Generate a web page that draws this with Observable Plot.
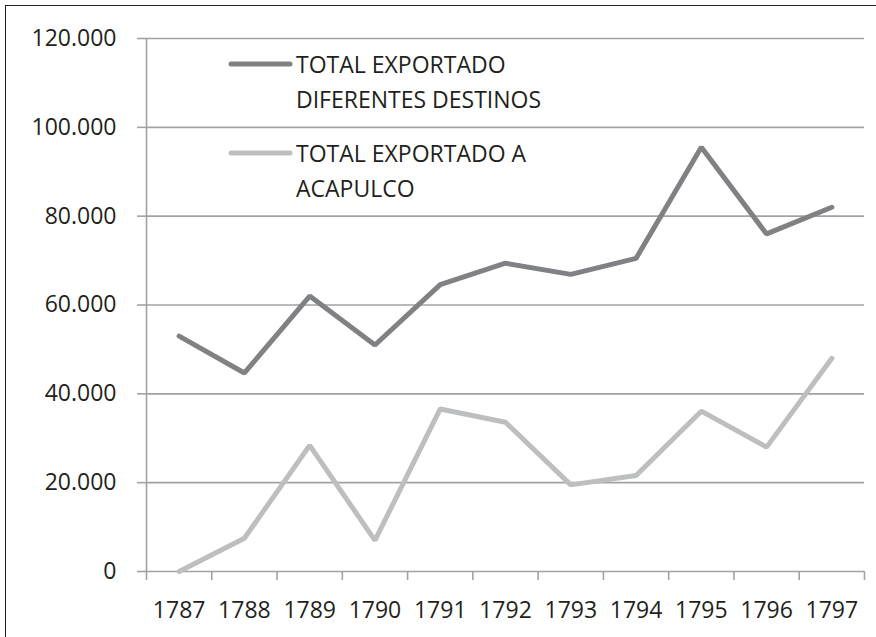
<!DOCTYPE html>
<html>
<head>
<meta charset="utf-8">
<script src="https://cdn.jsdelivr.net/npm/d3@7"></script>
<script src="https://cdn.jsdelivr.net/npm/@observablehq/plot@0.6"></script>
<style>
  html, body { margin: 0; padding: 0; background: #fff; }
  #wrap { position: relative; width: 876px; height: 637px; overflow: hidden; }
  #frame { position: absolute; left: 5px; top: 5px; right: -10px; bottom: -10px;
           border-left: 1.5px solid #222; border-top: 1.5px solid #222; pointer-events: none; }
</style>
</head>
<body>
<div id="wrap"><div id="frame"></div></div>
<script>
const years = [1787, 1788, 1789, 1790, 1791, 1792, 1793, 1794, 1795, 1796, 1797];
const totalDestinos = [53000, 44700, 62000, 51000, 64600, 69400, 66900, 70500, 95500, 76000, 82000];
const totalAcapulco = [0, 7500, 28400, 7000, 36600, 33600, 19500, 21600, 36100, 28000, 48000];
const seriesNames = ["TOTAL EXPORTADO\nDIFERENTES DESTINOS", "TOTAL EXPORTADO A\nACAPULCO"];
const seriesColors = ["#7f8184", "#bcbec0"];
const yTicks = [0, 20000, 40000, 60000, 80000, 100000, 120000];

const locale = d3.formatLocale({decimal: ",", thousands: ".", grouping: [3], currency: ["", ""]});
const fmt = locale.format(",");

const rows = [];
years.forEach((yr, i) => {
  rows.push({year: yr, value: totalDestinos[i], series: seriesNames[0]});
  rows.push({year: yr, value: totalAcapulco[i], series: seriesNames[1]});
});
const boundaries = [...years.map(y => y - 0.5), years[years.length - 1] + 0.5];

const FONT = "'Open Sans', sans-serif";
const FS = 23;
const textColor = "#231f20";
const gridColor = "#a2a2a2";

const chart = Plot.plot({
  width: 876,
  height: 637,
  marginLeft: 146,
  marginRight: 12,
  marginTop: 38,
  marginBottom: 66,
  style: {fontFamily: FONT, fontSize: FS + "px", color: textColor, background: "transparent"},
  x: {type: "linear", domain: [boundaries[0], boundaries[boundaries.length - 1]]},
  y: {domain: [0, 120000]},
  color: {domain: seriesNames, range: seriesColors},
  marks: [
    Plot.gridY(yTicks, {stroke: gridColor, strokeOpacity: 1, strokeWidth: 1.6}),
    Plot.axisY(yTicks, {tickSize: 9, tickPadding: 21, stroke: gridColor, strokeWidth: 1.6,
      tickFormat: fmt, fill: textColor, label: null}),
    Plot.ruleX([boundaries[0]], {y1: 0, y2: 120000, stroke: gridColor, strokeWidth: 1.6}),
    Plot.axisX(boundaries, {tickSize: 9, tickFormat: () => "", stroke: gridColor, strokeWidth: 1.6, label: null}),
    Plot.axisX(years, {tickSize: 0, tickPadding: 30, tickFormat: d => String(d), fill: textColor, label: null}),
    Plot.line(rows, {x: "year", y: "value", z: "series", stroke: "series", strokeWidth: 5,
      strokeLinejoin: "miter", strokeLinecap: "round"})
  ]
});

document.getElementById("wrap").prepend(chart);

// Legend inside the plot area
const svg = d3.select(chart);
const leg = svg.append("g").attr("font-family", FONT).attr("font-size", FS)
  .attr("fill", textColor).attr("text-anchor", "start");
const legendY = [64, 153];
seriesNames.forEach((name, i) => {
  leg.append("line")
    .attr("x1", 231).attr("x2", 290)
    .attr("y1", legendY[i]).attr("y2", legendY[i])
    .attr("stroke", seriesColors[i]).attr("stroke-width", 5).attr("stroke-linecap", "round");
  const t = leg.append("text").attr("x", 296).attr("y", legendY[i] + 9);
  name.split("\n").forEach((ln, j) => {
    t.append("tspan").attr("x", 296).attr("dy", j === 0 ? 0 : 35).text(ln);
  });
});
</script>
</body>
</html>
